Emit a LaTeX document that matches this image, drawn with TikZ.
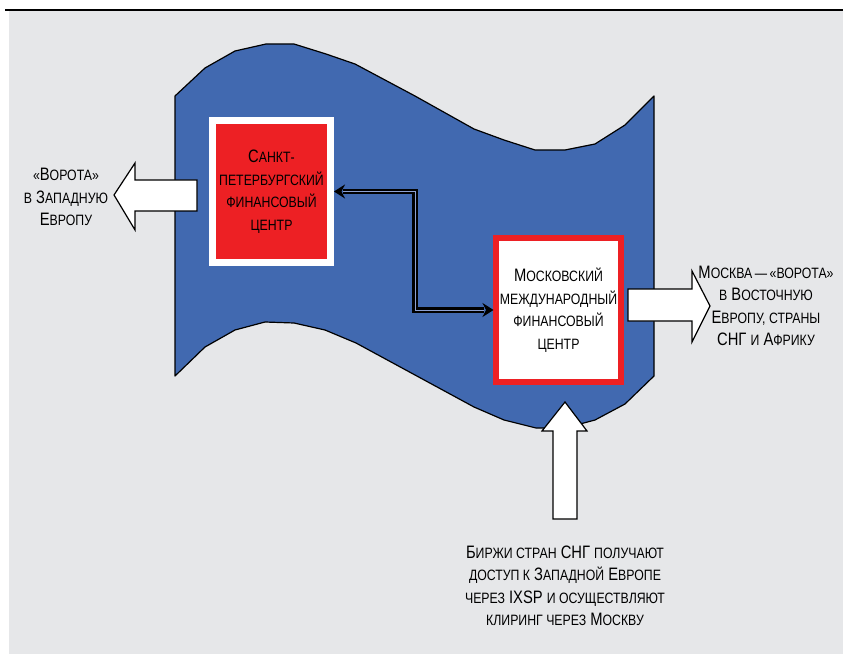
\documentclass[tikz,border=0pt]{standalone}
\usepackage{fontspec}
\setmainfont{Liberation Sans}[FakeStretch=0.82]
\usetikzlibrary{arrows.meta}
\definecolor{bggray}{RGB}{230,231,233}
\definecolor{flagblue}{RGB}{65,105,176}
\definecolor{spbred}{RGB}{237,32,36}
\definecolor{gapblue}{RGB}{140,160,210}
\newcommand\sml[1]{{\fontsize{15}{22.5}\selectfont #1}}
\tikzset{
  txt/.style={align=center, font=\fontsize{18}{22.5}\selectfont},
  blockarrow/.style={draw=black, fill=white, line width=1.2pt, line join=miter},
  link/.style={draw=black, line width=2.4pt, double=gapblue, double distance=1pt,
    shorten <=9pt, shorten >=9pt},
  linktips/.style={black, tips, line width=1pt,
    {Stealth[length=11pt,width=14pt]}-{Stealth[length=11pt,width=14pt]}}
}
\begin{document}
\begin{tikzpicture}[x=1pt,y=-1pt]
  \useasboundingbox (0,0) rectangle (843,655);
  \fill[bggray] (9,11) rectangle (843,654);
  \draw[line width=2pt] (5,10) -- (843,10);
  \draw[fill=flagblue, line width=1.2pt, line join=round]
    (175,96) -- (205,68) -- (235,51) -- (266,44) -- (294,44) -- (326,54) -- (355,64)
    -- (415,96) -- (474,129) -- (504,140) -- (535,150) -- (565,150) -- (595,144)
    -- (625,125) -- (654,96) -- (654,376) -- (625,404) -- (595,420) -- (565,428)
    -- (536,428) -- (504,420) -- (474,407) -- (415,375) -- (356,343) -- (325,330)
    -- (294,323) -- (265,322) -- (235,330) -- (205,347) -- (175,376) -- cycle;
  \node[txt, draw=white, fill=spbred, line width=7pt, minimum width=118pt, minimum height=142pt] (spb) at (271.5,191.5)
    {С\sml{АНКТ-}\\\sml{ПЕТЕРБУРГСКИЙ}\\\sml{ФИНАНСОВЫЙ}\\\sml{ЦЕНТР}};
  \node[txt, draw=spbred, fill=white, line width=6pt, minimum width=119pt, minimum height=144pt] (msk) at (558.5,310)
    {М\sml{ОСКОВСКИЙ}\\\sml{МЕЖДУНАРОДНЫЙ}\\\sml{ФИНАНСОВЫЙ}\\\sml{ЦЕНТР}};
  \draw[link] (spb.east) -- ++(81,0) |- (msk.west);
  \path[linktips] (spb.east) -- ++(81,0) |- (msk.west);
  \draw[blockarrow] (197,180) -- (135,180) -- (135,163) -- (114,195) -- (135,230) -- (135,211) -- (197,211) -- cycle;
  \draw[blockarrow] (628,289) -- (692,289) -- (692,271) -- (710,306) -- (692,342) -- (692,321) -- (628,321) -- cycle;
  \draw[blockarrow] (553,519) -- (553,431) -- (542,431) -- (565,402) -- (587,431) -- (577,431) -- (577,519) -- cycle;
  \node[txt] (west) at (66,197)
    {\sml{«}В\sml{ОРОТА»}\\\sml{В} З\sml{АПАДНУЮ}\\Е\sml{ВРОПУ}};
  \node[txt] (east) at (766,306)
    {М\sml{ОСКВА\,—\,«ВОРОТА»}\\\sml{В} В\sml{ОСТОЧНУЮ}\\Е\sml{ВРОПУ, СТРАНЫ}\\СНГ \sml{И} А\sml{ФРИКУ}};
  \node[txt] (cis) at (565,586)
    {Б\sml{ИРЖИ СТРАН} СНГ \sml{ПОЛУЧАЮТ}\\\sml{ДОСТУП К} З\sml{АПАДНОЙ} Е\sml{ВРОПЕ}\\\sml{ЧЕРЕЗ} IXSP \sml{И ОСУЩЕСТВЛЯЮТ}\\\sml{КЛИРИНГ ЧЕРЕЗ} М\sml{ОСКВУ}};
\end{tikzpicture}
\end{document}
